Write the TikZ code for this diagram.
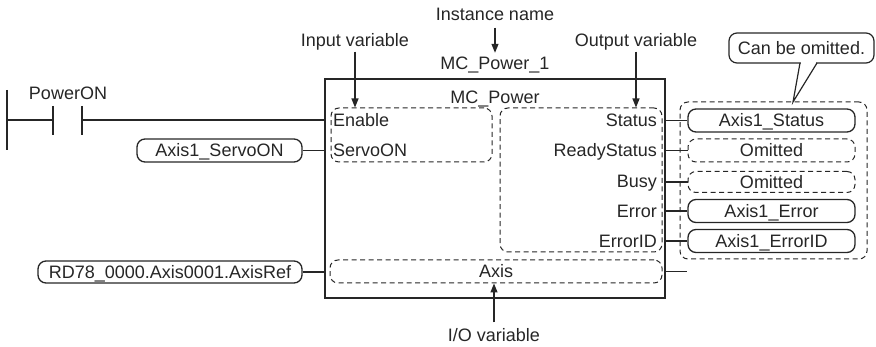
\documentclass[tikz,border=0pt]{standalone}
\usepackage{fontspec}
\setmainfont{Liberation Sans}
\usetikzlibrary{arrows.meta,calc}
\definecolor{ink}{HTML}{262626}
\newcommand\dgfont{\fontsize{18}{21}\selectfont}
\tikzset{
  lbl/.style={inner sep=0pt, text=ink, font=\dgfont, text height=13pt, text depth=0pt},
  solidbox/.style={draw=ink, line width=1.3pt, rounded corners=8pt, inner sep=0pt,
    text=ink, font=\dgfont, text height=13pt, text depth=0pt},
  dashbox/.style={draw=ink, line width=1pt, dash pattern=on 5pt off 3.5pt,
    rounded corners=8pt, inner sep=0pt, text=ink, font=\dgfont, text height=13pt, text depth=0pt},
  outbtn/.style={minimum width=167pt, minimum height=23pt},
  wire/.style={draw=ink, line width=1.3pt},
  pointer/.style={draw=ink, line width=1.2pt, -{Triangle[length=9pt,width=7pt]}},
}
\begin{document}
\begin{tikzpicture}[x=1pt,y=-1pt]
\useasboundingbox (0,0) rectangle (876,347);

% function block
\node[draw=ink, line width=1.5pt, minimum width=340pt, minimum height=219pt, inner sep=0pt] (fb) at (495,188.5) {};
\node[lbl] (title) at (495,97) {MC\_Power};
\node[dashbox, minimum width=161pt, minimum height=54pt] (inbox) at (411.5,135) {};
\node[dashbox, minimum width=162pt, minimum height=144pt] (outbox) at (581,180) {};
\node[dashbox, minimum width=332pt, minimum height=23pt] (axisbox) at (496,271.5) {Axis};

% labels on top
\node[lbl] (instlbl) at (495,14) {Instance name};
\node[lbl] (inst) at (495,63) {MC\_Power\_1};
\node[lbl] (inlbl) at (355,40) {Input variable};
\node[lbl] (outlbl) at (636,40) {Output variable};
\node[lbl] (iolbl) at (494,335) {I/O variable};

\draw[pointer] ([yshift=-7pt]instlbl.south) -- ([yshift=3.5pt]inst.north);
\draw[pointer] ([yshift=-5pt]inlbl.south) -- (inlbl.south |- inbox.north);
\draw[pointer] ([yshift=-5pt]outlbl.south) -- (outlbl.south |- outbox.north);
\draw[pointer] ([yshift=6pt]iolbl.north) -- (iolbl.north |- axisbox.south);

% input pins
\node[lbl, anchor=west] (enable) at (333,120) {Enable};
\node[lbl, anchor=west] (servoin) at (333,150) {ServoON};

% output pins
\node[lbl, anchor=east] (pstatus) at (657,120) {Status};
\node[lbl, anchor=east] (pready) at (657,150) {ReadyStatus};
\node[lbl, anchor=east] (pbusy) at (657,181) {Busy};
\node[lbl, anchor=east] (perror) at (657,211) {Error};
\node[lbl, anchor=east] (perrid) at (657,241) {ErrorID};

% right side variables
\node[dashbox, minimum width=187pt, minimum height=157pt] (grp) at (773.5,180.5) {};
\node[solidbox, outbtn] (vstatus) at (771.5,120.5) {Axis1\_Status};
\node[dashbox, outbtn] (vready) at (771.5,150.5) {Omitted};
\node[dashbox, outbtn, minimum height=21pt] (vbusy) at (771.5,182) {Omitted};
\node[solidbox, outbtn] (verror) at (771.5,211) {Axis1\_Error};
\node[solidbox, outbtn] (verrid) at (771.5,241) {Axis1\_ErrorID};

\foreach \v in {vstatus,vready,vbusy,verror,verrid}
  \draw[wire] (\v.west -| fb.east) -- (\v.west);

\coordinate (stub) at (687,271.5);
\draw[wire] (axisbox.east -| fb.east) -- (stub);

% callout
\node[draw=ink, line width=1.2pt, rounded corners=8pt, minimum width=145pt, minimum height=30pt,
  inner sep=0pt, text=ink, font=\dgfont, text height=13pt, text depth=0pt] (callout) at (801.5,48) {Can be omitted.};
\coordinate (pa) at (800,63);
\coordinate (pb) at (817,63);
\coordinate (tip) at (793,102);
\fill[white] ($(pa)+(0.9,-2)$) rectangle ($(pb)+(-0.9,2)$);
\draw[draw=ink, line width=1.2pt] (pa) -- (tip) -- (pb);

% left side
\node[solidbox, minimum width=165pt, minimum height=23pt] (vservo) at (219.5,150.5) {Axis1\_ServoON};
\node[solidbox, minimum width=264pt, minimum height=22pt] (vaxis) at (170,272) {RD78\_0000.Axis0001.AxisRef};
\draw[wire] (vservo.east) -- (vservo.east -| fb.west);
\draw[wire] (vaxis.east) -- (vaxis.east -| fb.west);

% ladder contact
\node[lbl] (pwr) at (68,93) {PowerON};
\coordinate (railtop) at (7,90);
\coordinate (railbot) at (7,150);
\coordinate (railmid) at (7,120);
\coordinate (ca) at (53,120);
\coordinate (cb) at (82,120);
\draw[wire] (railtop) -- (railbot);
\draw[wire] (railmid) -- (ca);
\draw[wire] ($(ca)+(0,-14)$) -- ($(ca)+(0,15)$);
\draw[wire] ($(cb)+(0,-14)$) -- ($(cb)+(0,15)$);
\draw[wire] (cb) -- (cb -| fb.west);
\end{tikzpicture}
\end{document}
